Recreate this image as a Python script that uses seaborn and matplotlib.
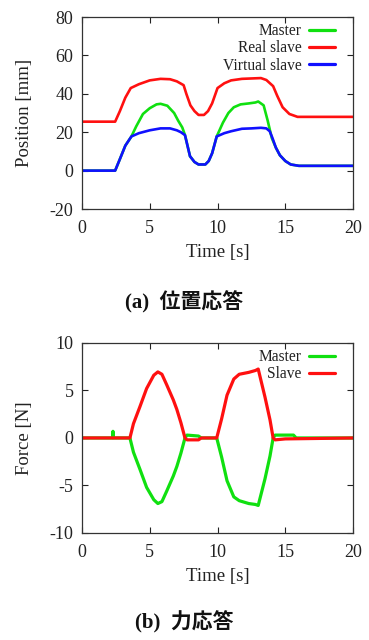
import numpy as np
import pandas as pd
import matplotlib
matplotlib.use("Agg")
import matplotlib.pyplot as plt
import seaborn as sns

# ---------------- data: position response ----------------
t_master = [0, 2.45, 2.8, 3.2, 3.65, 4.0, 4.5, 5.0, 5.5, 5.8, 6.3, 6.8, 7.1, 7.4, 7.6,
            7.97, 8.3, 8.6, 9.1, 9.35, 9.6, 9.94, 10.4, 10.8, 11.2, 11.7, 12.3, 12.8, 13.0,
            13.4, 13.7, 14.0, 14.3, 14.6, 15.0, 15.4, 16.0, 20]
master = [0, 0, 6, 13, 17.8, 23, 29.5, 32.5, 34.5, 34.8, 33.8, 30, 26, 22.5, 18.5,
          7.5, 4.5, 3.2, 3.2, 5, 9, 17.8, 25, 30, 33, 34.5, 35, 35.5, 36,
          34, 26, 17, 12, 8, 5, 3.2, 2.5, 2.5]

t_real = [0, 2.45, 2.8, 3.2, 3.6, 4.2, 5.0, 5.8, 6.5, 7.0, 7.5, 7.7, 8.0, 8.3, 8.6, 9.0,
          9.3, 9.6, 10.0, 10.5, 11.0, 11.8, 12.5, 13.2, 13.6, 14.1, 14.4, 14.8, 15.3, 15.9, 20]
real_slave = [25.5, 25.5, 31, 38, 43, 45, 47, 47.8, 47.6, 46.5, 44.5, 40, 34, 31, 29, 29,
              31, 35, 43, 45.5, 47, 47.8, 48, 48.2, 47.2, 44, 39, 33, 29.5, 28, 28]

t_virtual = [0, 2.45, 2.8, 3.2, 3.65, 4.2, 5.0, 5.8, 6.5, 7.0, 7.3, 7.6, 7.97, 8.3, 8.6,
             9.1, 9.35, 9.6, 9.94, 10.5, 11.0, 11.8, 12.5, 13.2, 13.6, 13.85, 14.05, 14.3,
             14.6, 15.0, 15.4, 16.0, 20]
virtual_slave = [0, 0, 6, 13, 17.8, 19.5, 21, 22, 22, 21, 20, 18.5, 7.5, 4.5, 3.2,
                 3.2, 5, 9, 17.8, 19.5, 20.5, 21.8, 22, 22.3, 22, 20.5, 17, 12,
                 8, 5, 3.2, 2.5, 2.5]

# ---------------- data: force response ----------------
t_fmaster = [0, 2.25, 2.29, 2.33, 3.54, 3.8, 4.28, 4.77, 5.3, 5.6, 5.9, 6.25, 6.74, 7.0,
             7.3, 7.6, 7.75, 8.6, 8.8, 9.94, 10.3, 10.7, 11.2, 11.6, 12.3, 12.8, 13.0,
             13.5, 13.87, 14.1, 14.25, 15.6, 15.8, 20]
f_master = [0, 0, 0.7, 0, 0, -1.5, -3.3, -5.2, -6.5, -6.9, -6.7, -5.6, -4.0, -3.0,
            -1.6, 0, 0.3, 0.2, 0, 0, -2.0, -4.5, -6.2, -6.6, -6.9, -7.0, -7.1,
            -4.3, -1.9, 0, 0.3, 0.3, 0, 0]

t_fslave = [0, 3.54, 3.8, 4.28, 4.77, 5.3, 5.6, 5.9, 6.25, 6.74, 7.0, 7.3, 7.6, 7.75,
            8.6, 8.8, 9.94, 10.3, 10.7, 11.2, 11.6, 12.3, 12.8, 13.0, 13.5, 13.87, 14.1,
            14.25, 15.0, 20]
f_slave = [0, 0, 1.5, 3.3, 5.2, 6.6, 6.95, 6.7, 5.6, 4.0, 3.0, 1.6, 0, -0.2,
           -0.2, 0, 0, 2.0, 4.5, 6.2, 6.7, 6.9, 7.1, 7.25, 4.3, 1.9, 0,
           -0.2, -0.1, 0]

pos_df = pd.concat([
    pd.DataFrame({"t": t_master, "v": master, "s": "Master"}),
    pd.DataFrame({"t": t_real, "v": real_slave, "s": "Real slave"}),
    pd.DataFrame({"t": t_virtual, "v": virtual_slave, "s": "Virtual slave"}),
], ignore_index=True)
force_df = pd.concat([
    pd.DataFrame({"t": t_fmaster, "v": f_master, "s": "Master"}),
    pd.DataFrame({"t": t_fslave, "v": f_slave, "s": "Slave"}),
], ignore_index=True)

sns.set_theme(style="ticks")
plt.rcParams["font.family"] = ["Liberation Serif", "Noto Sans CJK JP"]
plt.rcParams["axes.unicode_minus"] = False
plt.rcParams["axes.linewidth"] = 0.9
plt.rcParams["axes.edgecolor"] = "#333333"

GREEN, RED, BLUE = "#10e010", "#ff1010", "#1010ff"
TXT = "#222222"

fig = plt.figure(figsize=(3.69, 6.40), dpi=100)
ax1 = fig.add_axes([0.222, 0.6734, 0.735, 0.300])
ax2 = fig.add_axes([0.222, 0.1672, 0.735, 0.297])

sns.lineplot(data=pos_df, x="t", y="v", hue="s", estimator=None, sort=False,
             palette={"Master": GREEN, "Real slave": RED, "Virtual slave": BLUE},
             linewidth=1.9, ax=ax1)
sns.lineplot(data=force_df, x="t", y="v", hue="s", estimator=None, sort=False,
             palette={"Master": GREEN, "Slave": RED},
             linewidth=2.3, ax=ax2)

def style(ax, ylim, yticks, ylabel):
    ax.set_xlim(0, 20)
    ax.set_ylim(*ylim)
    ax.set_xticks([0, 5, 10, 15, 20])
    ax.set_yticks(yticks)
    ax.tick_params(direction="in", length=4, width=0.8, top=True, right=True,
                   labelsize=13, colors="#222222")
    ax.tick_params(axis="x", pad=8)
    ax.tick_params(axis="y", pad=6)
    ax.set_xlabel("Time [s]", fontsize=13.5, color=TXT, labelpad=5)
    ax.set_ylabel(ylabel, fontsize=13.5, color=TXT, labelpad=12)
    for sp in ax.spines.values():
        sp.set_visible(True)
    leg = ax.legend(loc="upper right", markerfirst=False, frameon=False,
                    fontsize=11.2, handlelength=1.65, handletextpad=0.5,
                    labelspacing=0.08, borderaxespad=0.0,
                    bbox_to_anchor=(0.955, 1.0))
    for line in leg.get_lines():
        line.set_linewidth(2.3)
    for t in leg.get_texts():
        t.set_color(TXT)

style(ax1, (-20, 80), [-20, 0, 20, 40, 60, 80], "Position [mm]")
style(ax2, (-10, 10), [-10, -5, 0, 5, 10], "Force [N]")

fig.text(0.5, 0.528, "(a)  位置応答", ha="center", va="center",
         fontsize=15, fontweight="bold", color="#111111")
fig.text(0.5, 0.027, "(b)  力応答", ha="center", va="center",
         fontsize=15, fontweight="bold", color="#111111")

fig.savefig("out.png", dpi=100)
